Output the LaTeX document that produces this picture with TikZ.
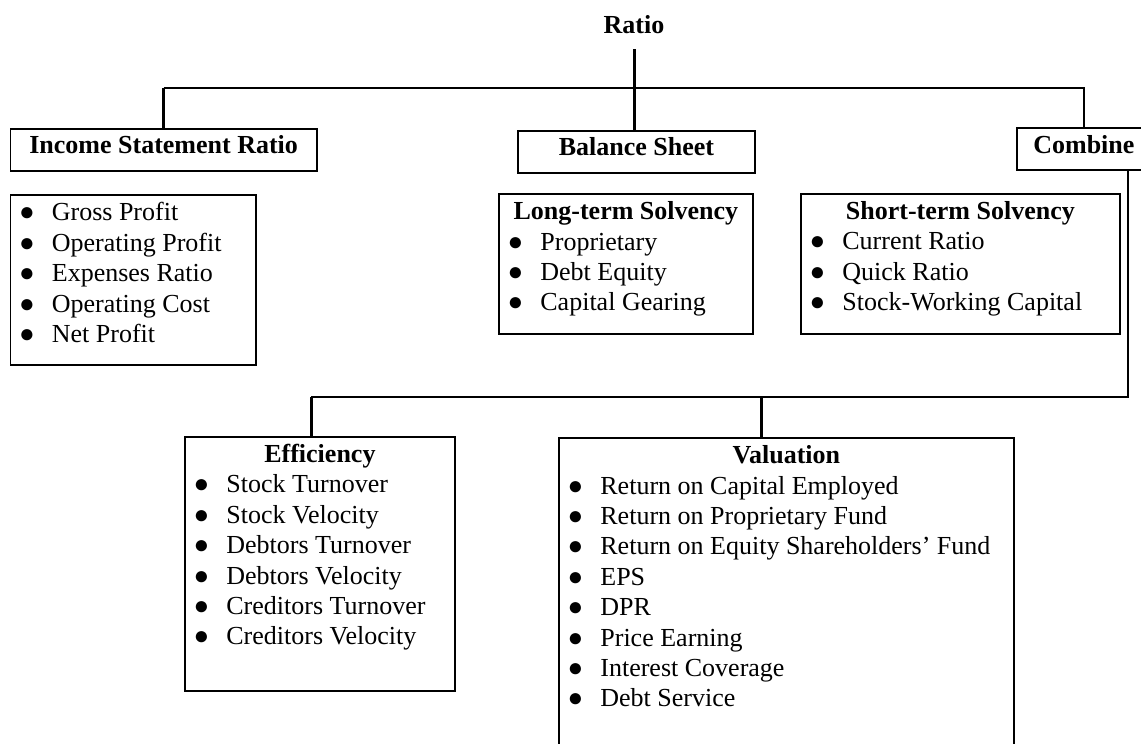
\documentclass[tikz,border=0pt]{standalone}
\usepackage{fontspec}
\setmainfont{Liberation Serif}
\usetikzlibrary{calc}

\newcommand{\itm}[1]{\hspace*{16.5pt}\makebox[0pt]{●}\hspace*{25pt}#1\par}
\newcommand{\hd}[1]{\rule{0pt}{25.5pt}{\centering\bfseries #1\par}}
\newcommand{\lst}[3]{\begin{minipage}[t][#2][t]{#1}#3\end{minipage}}

\begin{document}
\begin{tikzpicture}[x=1pt,y=-1pt,every node/.style={font=\fontsize{26}{30.4}\selectfont}]
\tikzstyle{head}=[draw, line width=1.8pt, inner sep=0pt, anchor=north west,
    font=\fontsize{26}{30.4}\selectfont\bfseries, text height=18pt, text depth=9.6pt]
\tikzstyle{lbox}=[draw, line width=1.8pt, inner sep=0pt, anchor=north west]
\tikzstyle{link}=[line width=1.6pt]
\tikzstyle{stem}=[line width=3pt]
\useasboundingbox (0,0) rectangle (1141,744);

    \node (ratio) [anchor=base, inner ysep=16pt, font=\fontsize{26}{30.4}\selectfont\bfseries] at (634,33) {Ratio};
    \node (inc) [head, minimum width=306.5pt, minimum height=42.3pt] at (9.5,127.7) {Income Statement Ratio};
    \node (bal) [head, minimum width=237pt, minimum height=41.7pt] at (517,130) {Balance Sheet};
    \node (comb) [head, minimum width=134pt, minimum height=42.3pt] at (1016,127) {Combine};

    % lists
    \node (inclist) [lbox] at (9.5,194) {\lst{245.5pt}{170pt}{%
        \itm{\rule{0pt}{26pt}Gross Profit}\itm{Operating Profit}\itm{Expenses Ratio}%
        \itm{Operating Cost}\itm{Net Profit}}};
    \node (long) [lbox] at (498,193.3) {\lst{254pt}{140pt}{%
        \hd{Long-term Solvency}\itm{Proprietary}\itm{Debt Equity}\itm{Capital Gearing}}};
    \node (short) [lbox] at (800,193) {\lst{319pt}{140pt}{%
        \hd{Short-term Solvency}\itm{Current Ratio}\itm{Quick Ratio}\itm{Stock-Working Capital}}};
    \node (eff) [lbox] at (184,436) {\lst{270pt}{254pt}{%
        \hd{Efficiency}\itm{Stock Turnover}\itm{Stock Velocity}\itm{Debtors Turnover}%
        \itm{Debtors Velocity}\itm{Creditors Turnover}\itm{Creditors Velocity}}};
    \node (val) [lbox] at (558,437.3) {\lst{455pt}{323pt}{%
        \hd{Valuation}\itm{Return on Capital Employed}\itm{Return on Proprietary Fund}%
        \itm{Return on Equity Shareholders' Fund}\itm{EPS}\itm{DPR}\itm{Price Earning}%
        \itm{Interest Coverage}\itm{Debt Service}}};

    \coordinate (hub) at (634,88);
    \coordinate (turn) at (1128,397);
    \coordinate (effin) at (311,397);
    \coordinate (valin) at (761,397);

    \draw[stem] (ratio.south) -- (ratio.south |- bal.north);
    \draw[link] (inc.north |- hub) -- (comb.north |- hub) -- (comb.north);
    \draw[stem] (inc.north |- hub) -- (inc.north);
    \draw[link] (comb.south -| turn) -- (turn) -- (effin);
    \draw[stem] (effin) -- (effin |- eff.north);
    \draw[stem] (valin) -- (valin |- val.north);
\end{tikzpicture}
\end{document}
